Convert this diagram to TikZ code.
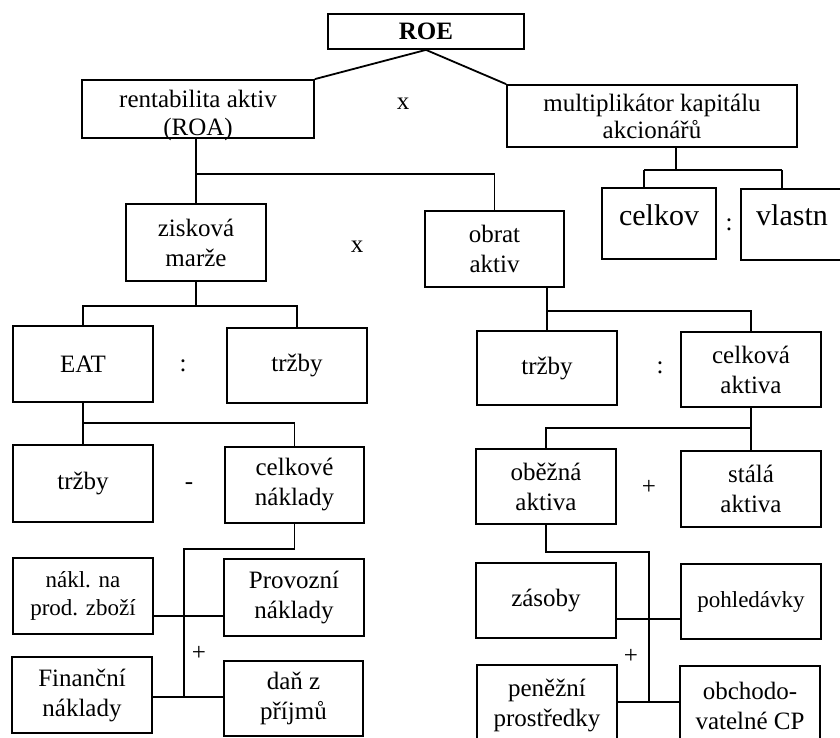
\documentclass[tikz,border=0pt]{standalone}
\usepackage{fontspec}
\setmainfont{Liberation Serif}
\usetikzlibrary{calc}
\tikzset{
  box/.style={draw, line width=1.8pt, rectangle, inner sep=0pt, align=center,
              font=\fontsize{25}{30}\selectfont},
  smalltext/.style={font=\fontsize{23}{28}\selectfont},
  lbl/.style={inner sep=0pt, align=center, font=\fontsize{25}{28}\selectfont},
  biglbl/.style={inner sep=0pt, font=\fontsize{30}{34}\selectfont},
  wire/.style={line width=1.8pt},
  op/.style={inner sep=0pt, font=\fontsize{25}{30}\selectfont},
}
\begin{document}
\begin{tikzpicture}[x=1pt, y=-1pt]
\useasboundingbox (0,0) rectangle (840,738);
\clip (0,0) rectangle (840,738);

% --- top level: ROE = ROA x equity multiplier
\node[box, minimum width=196pt, minimum height=35pt, font=\fontsize{25}{30}\selectfont\bfseries] (ROE) at (426,31.5) {ROE};
\node[box, minimum width=232pt, minimum height=58pt] (ROA) at (198,109) {};
\node[lbl] (ROAtxt) at (198,115) {rentabilita aktiv\\(ROA)};
\node[box, minimum width=290pt, minimum height=62pt, font=\fontsize{25}{27}\selectfont] (mult) at (652,116) {multiplikátor kapitálu\\akcionářů};
\node[op] (opx1) at (403,104) {x};

% --- equity multiplier split
\node[box, minimum width=114pt, minimum height=71pt] (celkov) at (659,223.5) {};
\node[biglbl, anchor=base] (celkovtxt) at (659,225) {celkov};
\node[box, minimum width=120pt, minimum height=71pt] (vlastn) at (801,224.5) {};
\node[biglbl, anchor=base] (vlastntxt) at (792,225) {vlastn};
\node[op] (opc1) at (729,225) {:};

% --- ROA = margin x asset turnover
\node[box, minimum width=140pt, minimum height=77pt] (zisk) at (196,242.5) {zisková\\marže};
\node[box, minimum width=139pt, minimum height=76pt] (obrat) at (494.5,249) {obrat\\aktiv};
\node[op] (opx2) at (357,247) {x};

% --- margin branch
\node[box, minimum width=140pt, minimum height=76pt] (EAT) at (83,364) {EAT};
\node[box, minimum width=140pt, minimum height=75pt] (trzbyA) at (297,365.5) {tržby};
\node[op] (opc2) at (183,366) {:};

\node[box, minimum width=140pt, minimum height=77pt] (trzbyB) at (83,483.5) {tržby};
\node[box, minimum width=139pt, minimum height=76pt] (celkN) at (294.5,485) {celkové\\náklady};
\node[op] (opminus) at (189,486) {-};

\node[box, smalltext, minimum width=140pt, minimum height=76pt] (nakl) at (83,596) {nákl. na\\prod. zboží};
\node[box, minimum width=140pt, minimum height=77pt] (provoz) at (294,597.5) {Provozní\\náklady};
\node[box, minimum width=140pt, minimum height=76pt] (financ) at (82,695) {Finanční\\náklady};
\node[box, minimum width=139pt, minimum height=75pt] (dan) at (293.5,698.5) {daň z\\příjmů};
\node[op] (opplus1) at (199,653) {+};

% --- turnover branch
\node[box, minimum width=140pt, minimum height=74pt] (trzbyC) at (547,368) {tržby};
\node[box, minimum width=140pt, minimum height=75pt] (celkA) at (751,369.5) {celková\\aktiva};
\node[op] (opc3) at (660,368) {:};

\node[box, minimum width=140pt, minimum height=75pt] (obezna) at (546,486.5) {oběžná\\aktiva};
\node[box, minimum width=140pt, minimum height=76pt] (stala) at (751,489) {stálá\\aktiva};
\node[op] (opplus2) at (649,487) {+};

\node[box, minimum width=140pt, minimum height=75pt] (zasoby) at (546,600.5) {zásoby};
\node[box, smalltext, minimum width=140pt, minimum height=75pt] (pohled) at (751,601.5) {pohledávky};
\node[box, minimum width=140pt, minimum height=80pt] (penez) at (547,705) {peněžní\\prostředky};
\node[box, minimum width=140pt, minimum height=80pt] (obchod) at (750,706) {obchodo-\\vatelné CP};
\node[op] (opplus3) at (631,656) {+};

% --- connectors
\draw[wire] (ROE.south) -- (ROA.north east);
\draw[wire] (ROE.south) -- (mult.north west);

\coordinate (j1) at (196,174);
\draw[wire] (ROA.south -| zisk.north) -- (zisk.north);
\draw[wire] (j1) -| (obrat.north);

\coordinate (m1) at (676,170);
\coordinate (m2) at (644,170);
\coordinate (m3) at (782,170);
\draw[wire] (mult.south -| m1) -- (m1);
\draw[wire] (m2) -- (m3);
\draw[wire] (m2) -- (m2 |- celkov.north);
\draw[wire] (m3) -- (m3 |- vlastn.north);

\coordinate (z1) at (196,306);
\draw[wire] (zisk.south) -- (z1);
\draw[wire] (EAT.north) -- (EAT.north |- z1) -- (trzbyA.north |- z1) -- (trzbyA.north);

\coordinate (o1) at (547,311);
\draw[wire] (obrat.south -| o1) -- (trzbyC.north);
\draw[wire] (o1) -| (celkA.north);

\coordinate (e1) at (83,423);
\draw[wire] (EAT.south) -- (trzbyB.north);
\draw[wire] (e1) -| (celkN.north);

\coordinate (c1) at (184,549);
\coordinate (c2) at (184,697);
\coordinate (c3) at (184,616);
\draw[wire] (celkN.south) |- (c1) -- (c2);
\draw[wire] (c3 -| nakl.east) -- (c3 -| provoz.west);
\draw[wire] (c2 -| financ.east) -- (c2 -| dan.west);

\coordinate (a1) at (751,428);
\draw[wire] (celkA.south) -- (stala.north);
\draw[wire] (a1) -| (obezna.north);

\coordinate (b1) at (649,552);
\coordinate (b2) at (649,702);
\coordinate (b3) at (649,619);
\draw[wire] (obezna.south) |- (b1) -- (b2);
\draw[wire] (b3 -| zasoby.east) -- (b3 -| pohled.west);
\draw[wire] (b2 -| penez.east) -- (b2 -| obchod.west);
\end{tikzpicture}
\end{document}
